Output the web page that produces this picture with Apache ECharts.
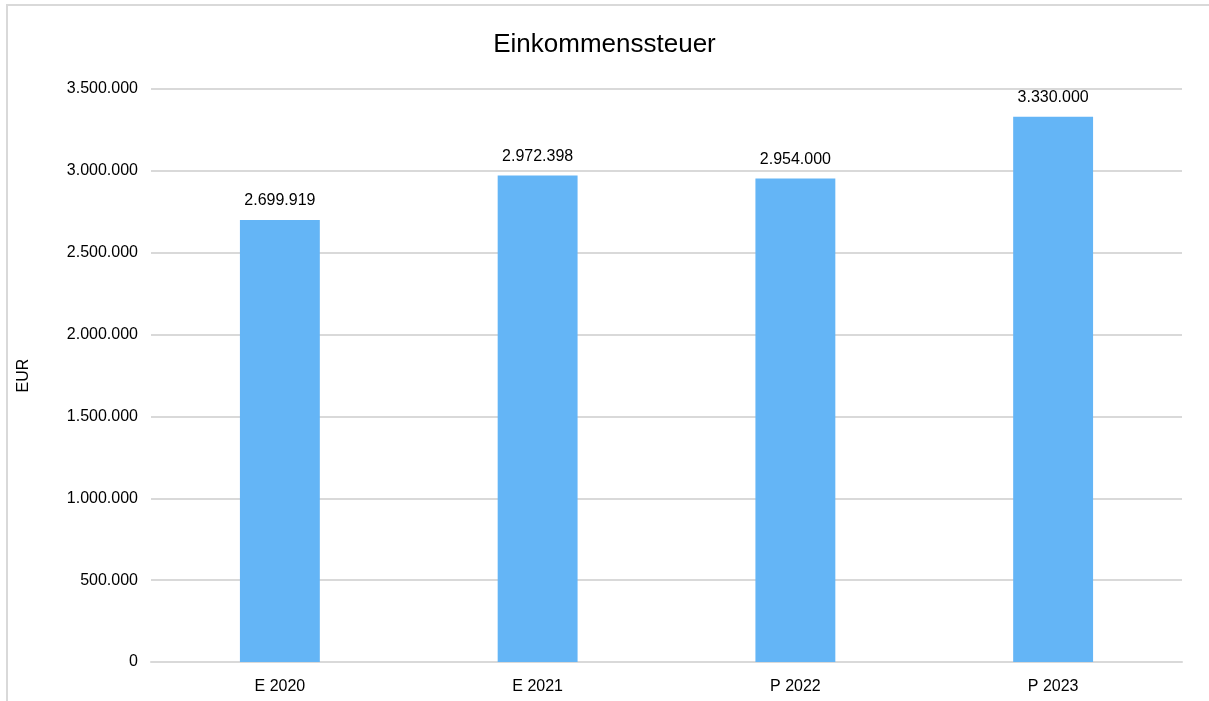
<!DOCTYPE html>
<html>
<head>
<meta charset="utf-8">
<script src="https://cdn.jsdelivr.net/npm/echarts@6/dist/echarts.min.js"></script>
<style>
  html, body { margin: 0; padding: 0; background: #fff; }
  #chart { width: 1209px; height: 701px; }
</style>
</head>
<body>
<div id="chart"></div>
<script>
const categories = ['E 2020', 'E 2021', 'P 2022', 'P 2023'];
const values = [2699919, 2972398, 2954000, 3330000];
const yTicks = { min: 0, max: 3500000, interval: 500000 };

// Punkt als Tausendertrennzeichen
const fmt = v => String(Math.round(v)).replace(/\B(?=(\d{3})+(?!\d))/g, '.');

const chart = echarts.init(document.getElementById('chart'));
chart.setOption({
  animation: false,
  textStyle: { fontFamily: 'Liberation Sans, Arial, sans-serif' },
  graphic: [{
    type: 'rect',
    shape: { x: 7, y: 5, width: 1230, height: 730 },
    style: { fill: 'none', stroke: '#d9d9d9', lineWidth: 2 },
    silent: true
  }],
  title: {
    text: 'Einkommenssteuer',
    left: 'center',
    top: 27,
    textStyle: { fontSize: 26, fontWeight: 'normal', color: '#000' }
  },
  grid: { left: 151, right: 27, top: 89, bottom: 39 },
  xAxis: {
    type: 'category',
    data: categories,
    axisLine: { lineStyle: { color: '#d9d9d9', width: 2 } },
    axisTick: { show: false },
    axisLabel: { color: '#000', fontSize: 16, margin: 17 }
  },
  yAxis: {
    type: 'value',
    min: yTicks.min,
    max: yTicks.max,
    interval: yTicks.interval,
    name: 'EUR',
    nameLocation: 'middle',
    nameRotate: 90,
    nameGap: 119,
    nameTextStyle: { color: '#000', fontSize: 16 },
    axisLabel: { color: '#000', fontSize: 16, margin: 13, formatter: fmt },
    splitLine: { lineStyle: { color: '#d9d9d9', width: 2 } }
  },
  series: [{
    type: 'bar',
    data: values,
    barWidth: '31%',
    itemStyle: { color: '#64b5f6' },
    label: {
      show: true,
      position: 'top',
      distance: 11,
      color: '#000',
      fontSize: 16,
      formatter: p => fmt(p.value)
    }
  }]
});
</script>
</body>
</html>
